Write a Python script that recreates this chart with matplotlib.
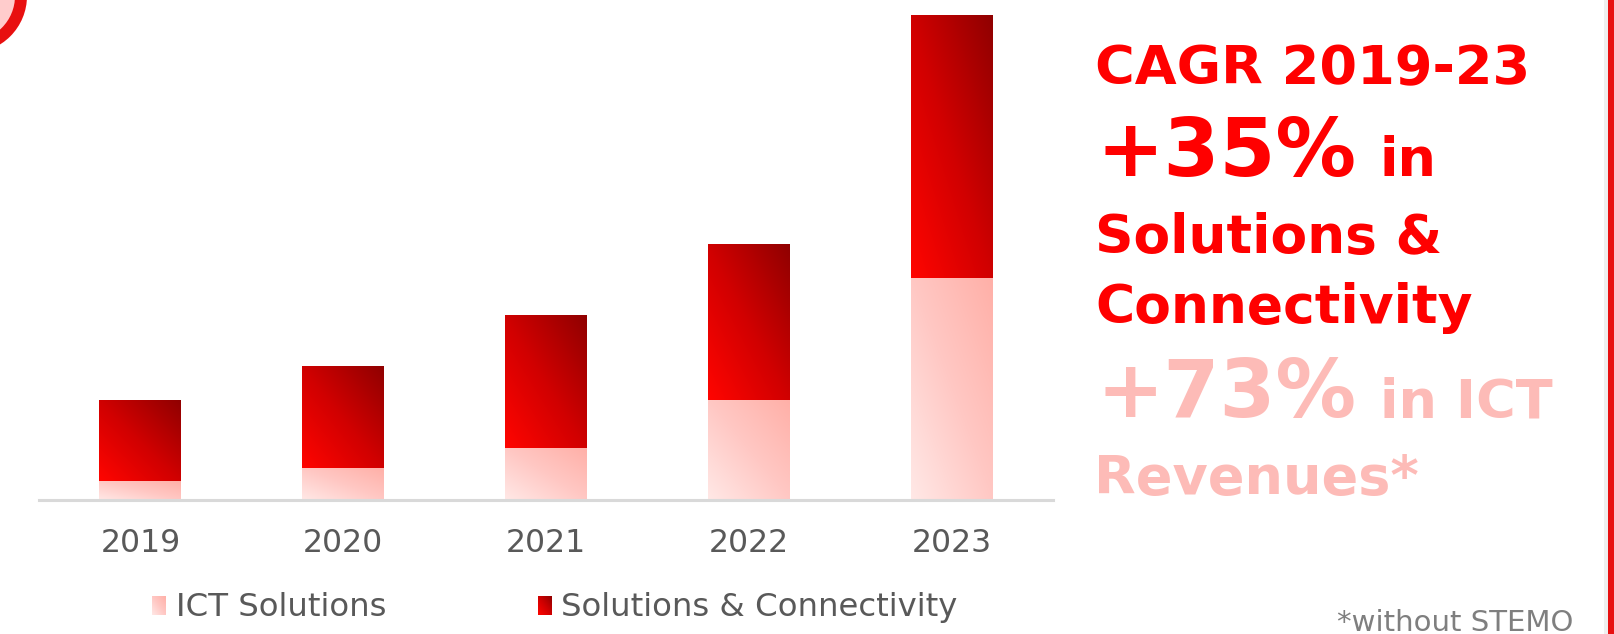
import numpy as np
import matplotlib
matplotlib.use('Agg')
import matplotlib.pyplot as plt
from matplotlib.colors import LinearSegmentedColormap
from matplotlib.patches import Circle, Rectangle
from matplotlib.transforms import IdentityTransform

# ─────────────────────────────────────────────
# Data (bar heights, arbitrary units)
# ─────────────────────────────────────────────
YEARS        = ["2019", "2020", "2021", "2022", "2023"]
ICT          = [19, 32, 52, 100, 222]
SOLUTIONS    = [81, 102, 133, 156, 263]
SERIES_NAMES = ["ICT Solutions", "Solutions & Connectivity"]

W, H = 1615, 634
RED  = "#ff0000"
PINK = "#fdbbb7"
GREY = "#595959"

CMAP_SC  = LinearSegmentedColormap.from_list("sc",  ["#ff0500", "#d00000", "#900000"])
CMAP_ICT = LinearSegmentedColormap.from_list("ict", ["#ffe8e6", "#ffc8c4", "#ffb0a8"])


def fx(x):
    return x / W


def fy(y_top):
    # y measured from the top of the picture -> figure fraction
    return (H - y_top) / H


def gradient(n=64):
    u = np.linspace(0, 1, n)
    uu, vv = np.meshgrid(u, u)
    return (uu + vv) / 2.0


def fill_gradient(ax, bar, cmap, z=2):
    x0, y0 = bar.get_x(), bar.get_y()
    ax.imshow(gradient(), cmap=cmap, origin='lower', aspect='auto',
              extent=[x0, x0 + bar.get_width(), y0, y0 + bar.get_height()],
              interpolation='bilinear', zorder=z)


fig = plt.figure(figsize=(W / 100, H / 100), dpi=100)
fig.patch.set_facecolor('white')

# ─────────────────────────────────────────────
# Stacked bars
# ─────────────────────────────────────────────
ax = fig.add_axes([fx(39), fy(500), fx(1014), 490 / H])
x = np.arange(len(YEARS))
bars_ict = ax.bar(x, ICT, width=0.404, color='none', linewidth=0)
bars_sc  = ax.bar(x, SOLUTIONS, width=0.404, bottom=ICT, color='none', linewidth=0)
for b in bars_ict:
    fill_gradient(ax, b, CMAP_ICT)
for b in bars_sc:
    fill_gradient(ax, b, CMAP_SC)

ax.set_xlim(-0.5, len(YEARS) - 0.5)
ax.set_ylim(0, 490)
ax.axhline(0, color='#d9d9d9', lw=2.2, zorder=3, clip_on=False)
for s in ax.spines.values():
    s.set_visible(False)
ax.set_yticks([])
ax.set_xticks(x)
ax.set_xticklabels(YEARS, fontsize=22.7, color=GREY, family='DejaVu Sans')
ax.tick_params(axis='x', length=0, pad=20.5)
ax.set_facecolor('none')

# ─────────────────────────────────────────────
# Legend (manual, gradient swatches)
# ─────────────────────────────────────────────
for name, cmap, mx, tx in [(SERIES_NAMES[0], CMAP_ICT, 152, 176),
                           (SERIES_NAMES[1], CMAP_SC, 538, 561)]:
    sw = fig.add_axes([fx(mx), fy(615), fx(14), 19 / H])
    sw.imshow(gradient(), cmap=cmap, origin='lower', aspect='auto')
    sw.axis('off')
    fig.text(fx(tx), fy(616), name, fontsize=23.3, color=GREY,
             family='DejaVu Sans', va='baseline', ha='left')

# ─────────────────────────────────────────────
# Callout text
# ─────────────────────────────────────────────
bold = dict(family='DejaVu Sans', weight='bold', va='baseline', ha='left')
fig.text(fx(1095), fy(84), "CAGR 2019-23", fontsize=39, color=RED, **bold)
fig.text(fx(1097), fy(176), "+35%", fontsize=58, color=RED, **bold)
fig.text(fx(1380), fy(176), "in", fontsize=39, color=RED, **bold)
fig.text(fx(1095), fy(253), "Solutions &", fontsize=38.5, color=RED, **bold)
fig.text(fx(1095), fy(323), "Connectivity", fontsize=38.5, color=RED, **bold)
fig.text(fx(1097), fy(417), "+73%", fontsize=58, color=PINK, **bold)
fig.text(fx(1380), fy(417), "in ICT", fontsize=39, color=PINK, **bold)
fig.text(fx(1094), fy(494), "Revenues*", fontsize=39, color=PINK, **bold)
fig.text(fx(1337), fy(631), "*without STEMO", fontsize=21, color='#7f7f7f',
         family='DejaVu Sans', va='baseline', ha='left')

# ─────────────────────────────────────────────
# Decorations: corner ring and right edge band
# ─────────────────────────────────────────────
fig.add_artist(Circle((-30, H + 4), 57, facecolor='#e81010', edgecolor='none',
                      transform=IdentityTransform()))
fig.add_artist(Circle((-30, H + 4), 45, facecolor='#ffcccc', edgecolor='none',
                      transform=IdentityTransform()))
fig.add_artist(Rectangle((1604, 0), 4, H, facecolor='#efefef', edgecolor='none',
                         transform=IdentityTransform()))
fig.add_artist(Rectangle((1608, 0), 7, H, facecolor='#e81010', edgecolor='none',
                         transform=IdentityTransform()))

fig.savefig('out.png', dpi=100, facecolor=fig.get_facecolor())
plt.close(fig)
